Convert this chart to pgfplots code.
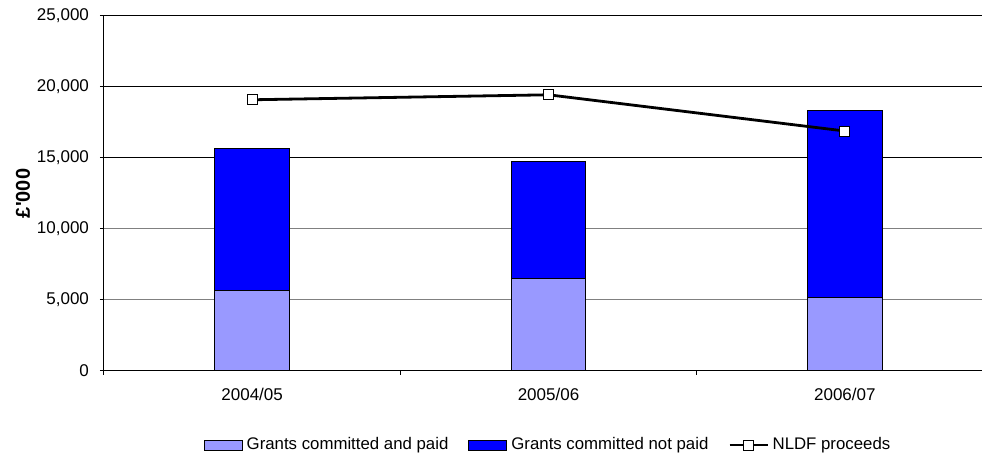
\documentclass[border=0pt]{standalone}
\usepackage{fontspec}
\setmainfont{Liberation Sans}
\usepackage{pgfplots}
\pgfplotsset{compat=1.18}

\definecolor{paid}{RGB}{153,153,255}
\definecolor{notpaid}{RGB}{0,0,255}

\newcommand{\chartfont}{\fontsize{8.5}{10}\selectfont}

\pgfplotsset{
  chartbase/.style={
    scale only axis,
    width=444.5pt, height=177.5pt,
    xmin=-0.5, xmax=2.5,
    ymin=0, ymax=25000,
  },
  barlegend/.style={
    legend image code/.code={\draw[##1] (0pt,-2.5pt) rectangle (19pt,2.5pt);}
  },
  linelegend/.style={
    legend image code/.code={\draw[mark repeat=2, mark phase=2, ##1, line width=1.1pt] plot coordinates {(0pt,0pt) (9.5pt,0pt) (19pt,0pt)};}
  },
}

\begin{document}
\begin{tikzpicture}
\path[use as bounding box] (-52pt,-43.5pt) rectangle (439pt,185.5pt);

\begin{axis}[
    chartbase,
    ybar stacked,
    bar width=0.253,
    axis x line*=bottom,
    axis y line*=left,
    axis line style={-, black, line width=0.5pt},
    tick align=outside,
    major tick length=2pt,
    tick style={black, line width=0.5pt},
    xtick={-0.5,0.5,1.5,2.5},
    xticklabels={},
    extra x ticks={0,1,2},
    extra x tick labels={2004/05,2005/06,2006/07},
    extra x tick style={tick style={draw=none}},
    xticklabel style={font=\chartfont, yshift=-3pt},
    ytick={0,5000,10000},
    extra y ticks={15000,20000,25000},
    extra y tick style={ymajorgrids=true, major grid style={black, line width=0.5pt}},
    ymajorgrids=true,
    major grid style={gray, line width=0.5pt},
    scaled y ticks=false,
    yticklabel style={font=\chartfont, xshift=-2pt},
    /pgf/number format/.cd, 1000 sep={,}, assume math mode=true,
    /pgfplots/.cd,
    ylabel={\textbf{£\textquotesingle 000}},
    ylabel style={font=\chartfont},
    every axis y label/.style={at={(axis description cs:-0.091,0.5)}, rotate=90, anchor=center},
]
\addplot[fill=paid, draw=black, line width=0.5pt]
  coordinates {(0,5700) (1,6500) (2,5150)};
\addplot[fill=notpaid, draw=black, line width=0.5pt]
  coordinates {(0,10000) (1,8250) (2,13200)};
\end{axis}

\begin{axis}[
    chartbase,
    hide axis,
    legend columns=3,
    legend style={
      at={(0.5,-0.2085)}, anchor=center,
      draw=none, fill=none, inner sep=0pt,
      font=\fontsize{8.4}{10}\selectfont,
      nodes={inner sep=1.5pt},
      /tikz/every odd column/.append style={column sep=0.5pt},
      /tikz/every even column/.append style={column sep=8.5pt},
    },
]
\addlegendimage{barlegend, fill=paid, draw=black, line width=0.5pt}
\addlegendentry{Grants committed and paid}
\addlegendimage{barlegend, fill=notpaid, draw=black, line width=0.5pt}
\addlegendentry{Grants committed not paid}
\addplot[black, line width=1.4pt, mark=square*, mark size=2.5pt,
  mark options={fill=white, line width=0.5pt}, linelegend]
  coordinates {(0,19100) (1,19450) (2,16900)};
\addlegendentry{NLDF proceeds}
\end{axis}
\end{tikzpicture}
\end{document}
